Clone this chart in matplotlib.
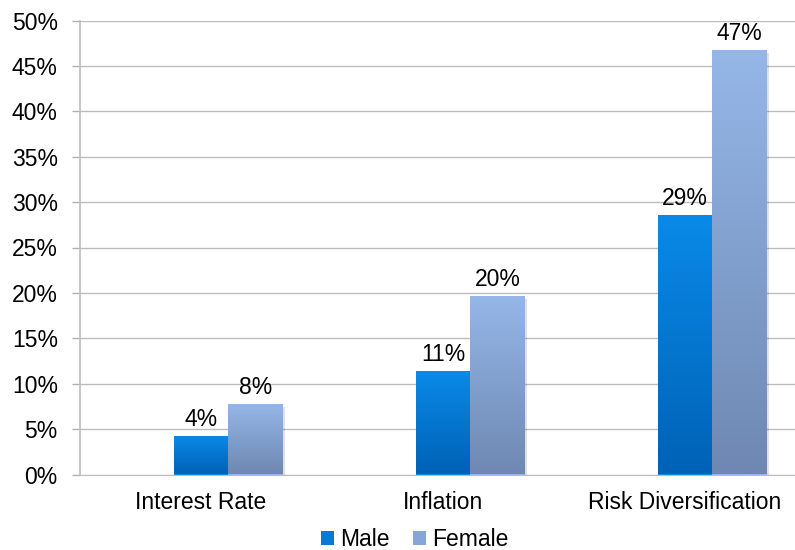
import numpy as np
import matplotlib
matplotlib.use("Agg")
import matplotlib.pyplot as plt
from matplotlib.colors import LinearSegmentedColormap
from matplotlib.patches import Patch

categories = ["Interest Rate", "Inflation", "Risk Diversification"]
male = [4.24, 11.4, 28.6]
female = [7.76, 19.66, 46.75]
series_names = ["Male", "Female"]
yticks = [0, 5, 10, 15, 20, 25, 30, 35, 40, 45, 50]

plt.rcParams['font.family'] = ['Liberation Sans', 'DejaVu Sans']

W, H = 795, 550
fig = plt.figure(figsize=(W / 100, H / 100), dpi=100)
left, right = 80, 806
bottom_px, top_px = 474.5, 20.5
ax = fig.add_axes([left / W, (H - bottom_px) / H, (right - left) / W, (bottom_px - top_px) / H])

FS = 16.5
bw = 0.225
x = np.arange(len(categories))
male_cols = ("#0062b6", "#0a8ae8")
fem_cols = ("#6e88b2", "#95b7e8")

def grad_bars(xpos, vals, cols, zorder=3):
    bars = ax.bar(xpos, vals, width=bw, color=cols[1], zorder=zorder, linewidth=0)
    cmap = LinearSegmentedColormap.from_list("g", [cols[0], cols[1]])
    grad = np.linspace(0, 1, 256).reshape(-1, 1)
    for b in bars:
        x0, w, h = b.get_x(), b.get_width(), b.get_height()
        # shadow
        ax.bar(x0 + w / 2 + 0.008, h, width=w, bottom=-0.35, color="#000000", alpha=0.12,
               zorder=zorder - 0.5, linewidth=0)
        im = ax.imshow(grad, cmap=cmap, origin="lower", aspect="auto",
                       extent=(x0, x0 + w, 0, h), zorder=zorder + 0.1, interpolation="bilinear")
        im.set_clip_path(b)
    return bars

mb = grad_bars(x, male, male_cols)
fb = grad_bars(x + bw, female, fem_cols)

for bars, vals in ((mb, male), (fb, female)):
    for b, v in zip(bars, vals):
        ax.text(b.get_x() + b.get_width() / 2, v + 0.55, f"{v:.0f}%", ha="center", va="bottom",
                fontsize=FS, color="#000000", zorder=5)

ax.set_xlim(-0.5, 2.5)
ax.set_ylim(0, 50)
ax.set_yticks(yticks)
ax.set_yticklabels([f"{t}%" for t in yticks], fontsize=FS)
ax.set_xticks(x)
ax.set_xticklabels(categories, fontsize=FS)
ax.tick_params(axis="x", length=0, pad=12)
ax.tick_params(axis="y", length=5.5, color="#b0b0b0", width=1, pad=10.5)
ax.grid(axis="y", color="#bdbdbd", linewidth=1, zorder=0)
ax.set_axisbelow(True)
for s in ("top", "right"):
    ax.spines[s].set_visible(False)
ax.spines["left"].set_color("#bdbdbd")
ax.spines["bottom"].set_color("#bdbdbd")
ax.spines["left"].set_linewidth(1.2)

handles = [Patch(facecolor="#0a78d6", label=series_names[0]),
           Patch(facecolor="#86a5d8", label=series_names[1])]
fig.legend(handles=handles, loc="center", bbox_to_anchor=(415 / W, 1 - 540 / H), ncol=2,
           frameon=False, fontsize=FS, handlelength=0.55, handleheight=0.55,
           handletextpad=0.3, columnspacing=1.0)

fig.savefig("out.png", dpi=100)
